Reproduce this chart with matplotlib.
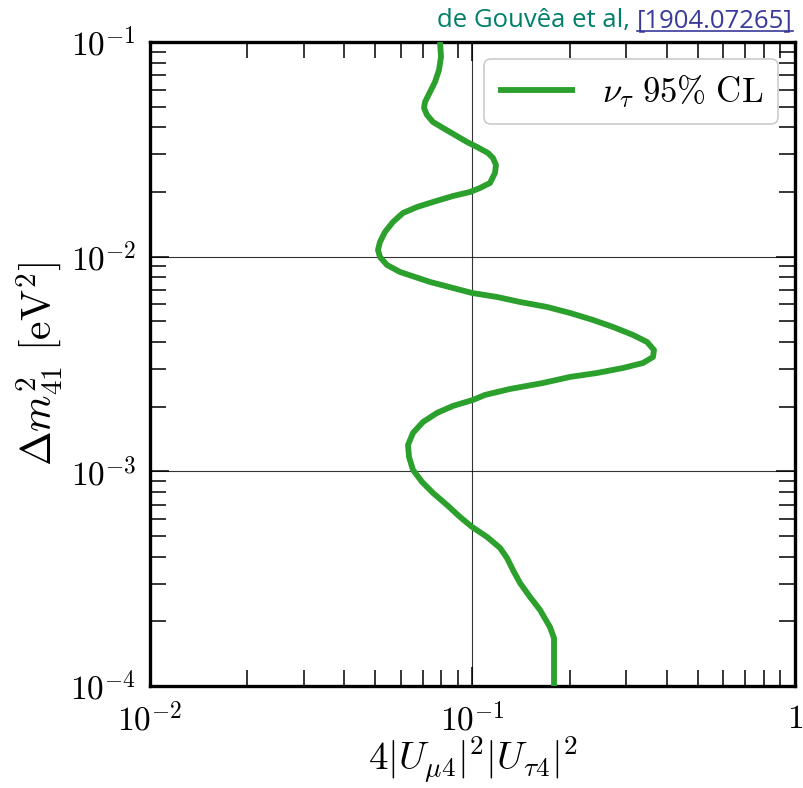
import matplotlib
matplotlib.use("Agg")
import matplotlib.pyplot as plt
from matplotlib.lines import Line2D
from matplotlib.ticker import LogLocator, NullFormatter, FixedLocator

plt.rcParams["mathtext.fontset"] = "cm"
plt.rcParams["font.family"] = "serif"
plt.rcParams["font.serif"] = ["DejaVu Serif"]

# 95% CL exclusion contour for the nu_tau appearance channel
dm2_41 = [0.1, 0.08514, 0.07407, 0.06512, 0.05849, 0.05254, 0.04928, 0.04571,
          0.04240, 0.03976, 0.03688, 0.03421, 0.03243, 0.03041, 0.02882,
          0.02674, 0.02454, 0.02204, 0.02089, 0.02001, 0.01917, 0.01798,
          0.01703, 0.01598, 0.01451, 0.01303, 0.01171, 0.01074, 0.009968,
          0.009148, 0.008486, 0.008130, 0.007624, 0.007147, 0.006774,
          0.006490, 0.006151, 0.005830, 0.005467, 0.005071, 0.004705,
          0.004318, 0.004005, 0.003676, 0.003410, 0.003197, 0.003030,
          0.002872, 0.002752, 0.002580, 0.002419, 0.002269, 0.002151,
          0.002017, 0.001871, 0.001698, 0.001510, 0.001327, 0.001167,
          0.001015, 0.000893, 0.000793, 0.000697, 0.000613, 0.000551,
          0.000495, 0.000440, 0.000395, 0.000347, 0.000302, 0.000260,
          0.000226, 0.000188, 0.000167, 0.0001]
mixing = [0.07929, 0.07986, 0.07872, 0.07651, 0.07383, 0.07124, 0.07073, 0.07226,
          0.07542, 0.08101, 0.08826, 0.09615, 0.10326, 0.11169, 0.11575,
          0.11825, 0.11741, 0.11329, 0.10549, 0.09823, 0.08700, 0.07542,
          0.06729, 0.06088, 0.05668, 0.05353, 0.05165, 0.05092, 0.05165,
          0.05430, 0.05959, 0.06493, 0.07383, 0.08700, 0.09964,
          0.11910, 0.14035, 0.17023, 0.20058, 0.23635, 0.27270,
          0.31454, 0.34763, 0.36544, 0.36284, 0.33784, 0.29286,
          0.24320, 0.20058, 0.16546, 0.13067, 0.10932, 0.10036,
          0.08700, 0.07761, 0.07023, 0.06539, 0.06310, 0.06355,
          0.06539, 0.06973, 0.07542, 0.08335, 0.09146, 0.09964,
          0.11089, 0.12167, 0.12790, 0.13350, 0.14035, 0.15076,
          0.16196, 0.17392, 0.17896, 0.17896]

x_ticks = [1e-2, 1e-1, 1]
x_ticklabels = [r"$10^{-2}$", r"$10^{-1}$", r"$1$"]
y_ticks = [1e-4, 1e-3, 1e-2, 1e-1]
y_ticklabels = [r"$10^{-4}$", r"$10^{-3}$", r"$10^{-2}$", r"$10^{-1}$"]

fig = plt.figure(figsize=(8.04, 7.88), dpi=100)
ax = fig.add_axes([150 / 804, 1 - 686 / 788, 645 / 804, 644 / 788])

ax.plot(mixing, dm2_41, color="#2ca02c", lw=4.2, solid_joinstyle="round",
        solid_capstyle="butt", label=r"$\nu_\tau\ 95\%\ \mathrm{CL}$", zorder=3)

ax.set_xscale("log")
ax.set_yscale("log")
ax.set_xlim(1e-2, 1)
ax.set_ylim(1e-4, 1e-1)

ax.xaxis.set_major_locator(FixedLocator(x_ticks))
ax.yaxis.set_major_locator(FixedLocator(y_ticks))
ax.set_xticklabels(x_ticklabels)
ax.set_yticklabels(y_ticklabels)
ax.xaxis.set_minor_locator(LogLocator(base=10, subs=range(2, 10), numticks=20))
ax.yaxis.set_minor_locator(LogLocator(base=10, subs=range(2, 10), numticks=20))
ax.xaxis.set_minor_formatter(NullFormatter())
ax.yaxis.set_minor_formatter(NullFormatter())

ax.tick_params(which="both", direction="in", top=True, right=True, width=1.1,
               color="black")
ax.tick_params(which="major", length=14, labelsize=24, pad=10)
ax.tick_params(which="minor", length=11.5)
ax.tick_params(axis="x", which="major", pad=12)

for s in ax.spines.values():
    s.set_linewidth(2.4)
    s.set_color("black")

ax.grid(True, which="major", color="black", lw=0.8, alpha=0.8)

ax.set_xlabel(r"$4|U_{\mu 4}|^2|U_{\tau 4}|^2$", fontsize=28, labelpad=-3)
ax.set_ylabel(r"$\Delta m^2_{41}\ [\mathrm{eV}^2]$", fontsize=30, labelpad=4)

leg = ax.legend(loc="upper right", fontsize=25, handlelength=2.2,
                handletextpad=0.8, frameon=True, fancybox=True, framealpha=1.0,
                borderaxespad=0.5, borderpad=0.4)
leg.get_frame().set_edgecolor("#cccccc")
leg.get_frame().set_linewidth(1.2)

# citation in the top-right corner, with the arXiv number underlined
fig.canvas.draw()
renderer = fig.canvas.get_renderer()
ref = fig.text(793 / 804, 1 - 27 / 788, "[1904.07265]", ha="right", va="baseline",
               fontsize=18.5, family=["Open Sans", "DejaVu Sans"], color="#3a3a9a")
fig.canvas.draw()
bb = ref.get_window_extent(renderer).transformed(fig.transFigure.inverted())
fig.text(bb.x0, 1 - 27 / 788, "de Gouvêa et al, ", ha="right",
         va="baseline", fontsize=18.5, family=["Open Sans", "DejaVu Sans"],
         color="#00806a")
uy = 1 - 31 / 788
fig.add_artist(Line2D([bb.x0, bb.x1], [uy, uy], transform=fig.transFigure,
                      color="#3a3a9a", lw=1.2))

fig.savefig("out.png", dpi=100)
